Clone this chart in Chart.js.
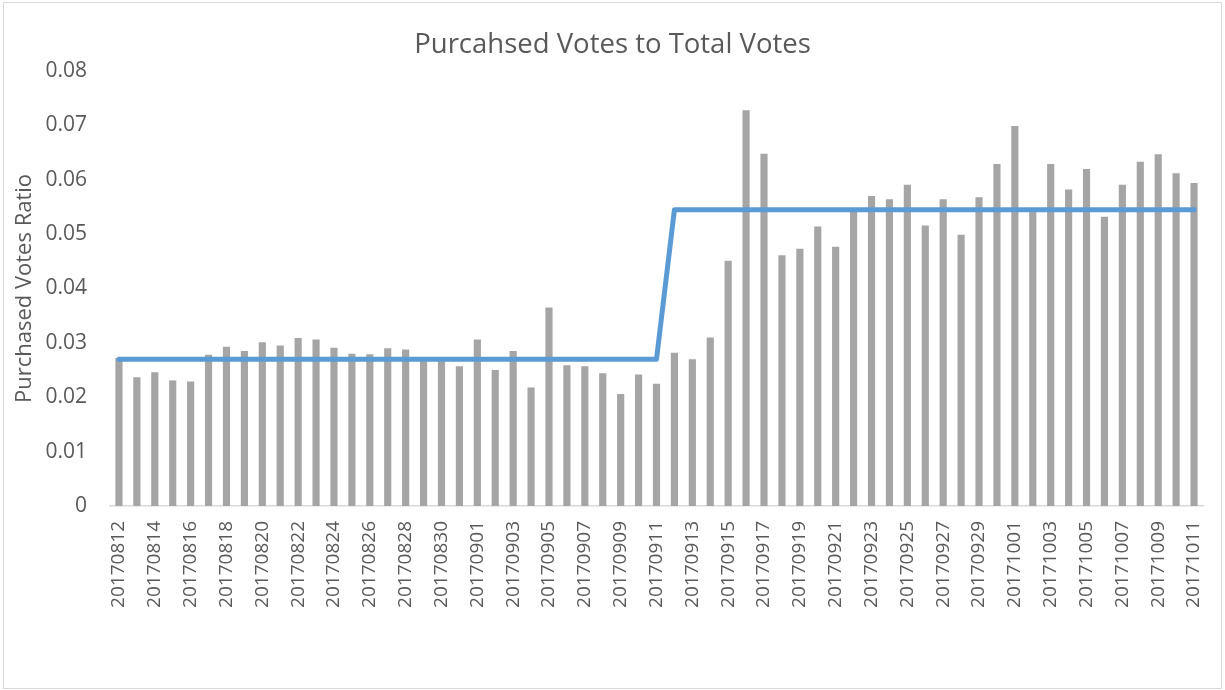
<!DOCTYPE html>
<html>
<head>
<meta charset="utf-8">
<script src="https://cdn.jsdelivr.net/npm/chart.js@4.4.1/dist/chart.umd.min.js"></script>
<style>
  html, body { margin: 0; padding: 0; background: #ffffff; }
  #wrap { position: relative; width: 1225px; height: 690px; }
  #frame { position: absolute; left: 3px; top: 2px; width: 1217px; height: 685px; border: 1px solid #d9d9d9; pointer-events: none; }
</style>
</head>
<body>
<div id="wrap">
  <canvas id="chart" width="1225" height="690"></canvas>
  <div id="frame"></div>
</div>
<script>
// Daily dates, 12 Aug 2017 – 11 Oct 2017
const dates = [
  '20170812','20170813','20170814','20170815','20170816','20170817','20170818','20170819','20170820','20170821',
  '20170822','20170823','20170824','20170825','20170826','20170827','20170828','20170829','20170830','20170831',
  '20170901','20170902','20170903','20170904','20170905','20170906','20170907','20170908','20170909','20170910',
  '20170911','20170912','20170913','20170914','20170915','20170916','20170917','20170918','20170919','20170920',
  '20170921','20170922','20170923','20170924','20170925','20170926','20170927','20170928','20170929','20170930',
  '20171001','20171002','20171003','20171004','20171005','20171006','20171007','20171008','20171009','20171010',
  '20171011'
];

// Daily ratio of purchased votes to total votes
const dailyRatio = [
  0.0272, 0.0237, 0.0246, 0.0231, 0.0229, 0.0278, 0.0293, 0.0285, 0.0301, 0.0295,
  0.0309, 0.0306, 0.0291, 0.0280, 0.0279, 0.0290, 0.0288, 0.0268, 0.0269, 0.0257,
  0.0306, 0.0250, 0.0285, 0.0218, 0.0365, 0.0259, 0.0257, 0.0244, 0.0206, 0.0242,
  0.0225, 0.0282, 0.0270, 0.0310, 0.0451, 0.0728, 0.0648, 0.0461, 0.0473, 0.0514,
  0.0477, 0.0543, 0.0570, 0.0564, 0.0591, 0.0516, 0.0564, 0.0499, 0.0568, 0.0629,
  0.0699, 0.0541, 0.0629, 0.0582, 0.0620, 0.0532, 0.0591, 0.0633, 0.0647, 0.0612,
  0.0594
];

// Period average (before / after 12 Sep)
const periodAverage = [
  0.0270, 0.0270, 0.0270, 0.0270, 0.0270, 0.0270, 0.0270, 0.0270, 0.0270, 0.0270,
  0.0270, 0.0270, 0.0270, 0.0270, 0.0270, 0.0270, 0.0270, 0.0270, 0.0270, 0.0270,
  0.0270, 0.0270, 0.0270, 0.0270, 0.0270, 0.0270, 0.0270, 0.0270, 0.0270, 0.0270,
  0.0270, 0.0545, 0.0545, 0.0545, 0.0545, 0.0545, 0.0545, 0.0545, 0.0545, 0.0545,
  0.0545, 0.0545, 0.0545, 0.0545, 0.0545, 0.0545, 0.0545, 0.0545, 0.0545, 0.0545,
  0.0545, 0.0545, 0.0545, 0.0545, 0.0545, 0.0545, 0.0545, 0.0545, 0.0545, 0.0545,
  0.0545
];

// Y axis ticks
const yTicks = [0, 0.01, 0.02, 0.03, 0.04, 0.05, 0.06, 0.07, 0.08];

const FONT = "'Open Sans', 'Liberation Sans', sans-serif";
const TEXT = '#595959';

new Chart(document.getElementById('chart'), {
  type: 'bar',
  data: {
    labels: dates,
    datasets: [
      {
        type: 'line',
        label: 'Average',
        data: periodAverage,
        borderColor: '#5B9BD5',
        borderWidth: 5,
        borderCapStyle: 'round',
        borderJoinStyle: 'round',
        pointRadius: 0,
        tension: 0,
        fill: false,
        order: 0
      },
      {
        type: 'bar',
        label: 'Purchased Votes Ratio',
        data: dailyRatio,
        backgroundColor: '#A5A5A5',
        barPercentage: 0.4,
        categoryPercentage: 1.0,
        order: 1
      }
    ]
  },
  options: {
    responsive: false,
    animation: false,
    layout: { padding: { left: 0, right: 0, top: 0, bottom: 4 } },
    plugins: {
      legend: { display: false },
      tooltip: { enabled: false },
      title: {
        display: true,
        text: 'Purcahsed Votes to Total Votes',
        color: TEXT,
        font: { family: FONT, size: 27.5, weight: 'normal' },
        padding: { top: 29, bottom: 9 }
      }
    },
    scales: {
      x: {
        grid: { display: false, drawTicks: false },
        border: { display: true, color: '#d9d9d9', width: 1.5 },
        ticks: {
          autoSkip: false,
          maxRotation: 90,
          minRotation: 90,
          padding: 15,
          color: TEXT,
          font: { family: FONT, size: 19 },
          callback: (v, i) => (i % 2 === 0 ? dates[i] : '')
        },
        afterFit: (s) => { s.height = 180; s.paddingLeft = 0; s.paddingRight = 0; }
      },
      y: {
        min: 0,
        max: 0.08,
        grid: { display: false, drawTicks: false },
        border: { display: false },
        afterBuildTicks: (s) => { s.ticks = yTicks.map(v => ({ value: v })); },
        ticks: {
          padding: 23,
          color: TEXT,
          font: { family: FONT, size: 21 },
          callback: (v) => (v === 0 ? '0' : v.toFixed(2))
        },
        title: {
          display: true,
          text: 'Purchased Votes Ratio',
          color: TEXT,
          font: { family: FONT, size: 22, weight: 'normal' },
          padding: { top: 12, bottom: 0 }
        },
        afterFit: (s) => { s.width = 110; }
      },
      // empty right-hand margin scale, keeps the plot clear of the frame
      margin: {
        position: 'right',
        axis: 'y',
        display: true,
        grid: { display: false, drawTicks: false },
        border: { display: false },
        ticks: { display: false },
        afterFit: (s) => { s.width = 22; }
      }
    }
  }
});
</script>
</body>
</html>
